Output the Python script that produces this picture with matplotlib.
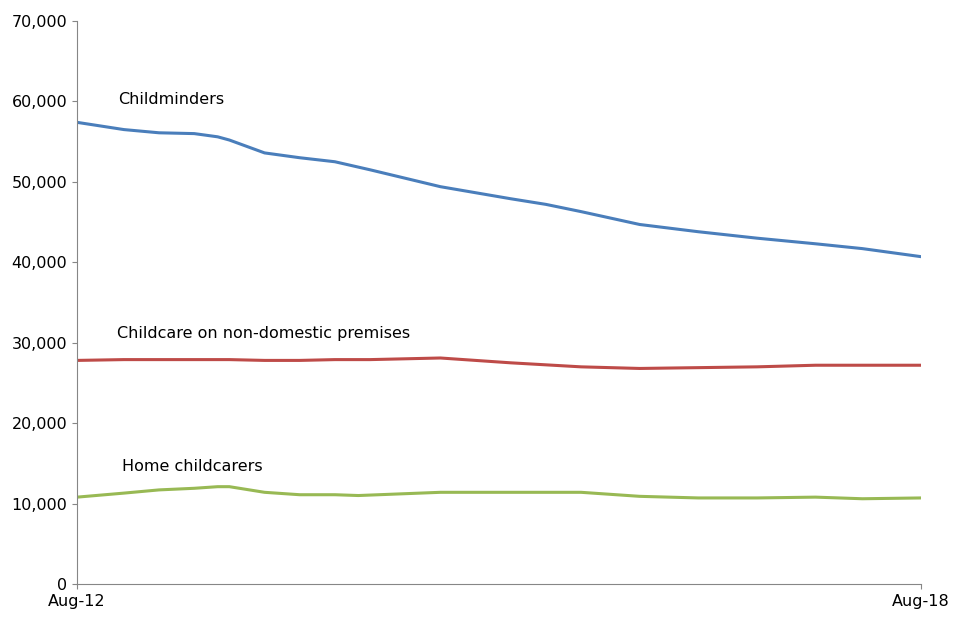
import matplotlib
matplotlib.use("Agg")
import matplotlib.pyplot as plt
from matplotlib.ticker import FuncFormatter

cm_months = [0, 4, 7, 10, 12, 13, 16, 19, 22, 25, 31, 37, 40, 43, 48, 53, 58, 63, 67, 72]
cm_vals = [57400, 56500, 56100, 56000, 55600, 55200, 53600, 53000, 52500, 51500, 49400, 47900, 47200, 46300, 44700, 43800, 43000, 42300, 41700, 40700]
nd_months = [0, 4, 13, 16, 19, 22, 25, 31, 37, 43, 48, 53, 58, 63, 72]
nd_vals = [27800, 27900, 27900, 27800, 27800, 27900, 27900, 28100, 27500, 27000, 26800, 26900, 27000, 27200, 27200]
hc_months = [0, 4, 7, 10, 12, 13, 16, 19, 22, 24, 31, 43, 48, 53, 58, 63, 67, 72]
hc_vals = [10800, 11300, 11700, 11900, 12100, 12100, 11400, 11100, 11100, 11000, 11400, 11400, 10900, 10700, 10700, 10800, 10600, 10700]
tick_labels = ["Aug-12", "Aug-18"]

fig = plt.figure(figsize=(9.6, 6.4), dpi=100)
ax = fig.add_axes([77/960, 56/640, 844/960, 563/640])
ax.plot(cm_months, cm_vals, color="#4a7ebb", lw=2.2)
ax.plot(nd_months, nd_vals, color="#be4b48", lw=2.2)
ax.plot(hc_months, hc_vals, color="#98b954", lw=2.2)
ax.set_xlim(0, 72)
ax.set_ylim(0, 70000)
ax.set_yticks(range(0, 70001, 10000))
ax.yaxis.set_major_formatter(FuncFormatter(lambda v, p: f"{int(v):,}"))
ax.set_xticks([0, 72])
ax.set_xticklabels(tick_labels)
for s in ["top", "right"]:
    ax.spines[s].set_visible(False)
for s in ["left", "bottom"]:
    ax.spines[s].set_color("#868686")
ax.tick_params(labelsize=11.5, color="#868686")
ax.text(3.5, 60200, "Childminders", fontsize=11.5, va="center")
ax.text(3.4, 31200, "Childcare on non-domestic premises", fontsize=11.5, va="center")
ax.text(3.8, 14550, "Home childcarers", fontsize=11.5, va="center")
fig.savefig("out.png")
